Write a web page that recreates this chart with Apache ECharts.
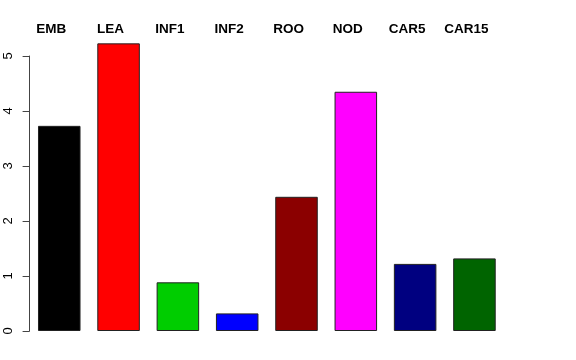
<!DOCTYPE html>
<html>
<head>
<meta charset="utf-8">
<script src="https://cdn.jsdelivr.net/npm/echarts@6/dist/echarts.min.js"></script>
<style>html,body{margin:0;padding:0;background:#fff;}#c{width:576px;height:360px;}</style>
</head>
<body>
<div id="c"></div>
<script>
const categories = ['EMB', 'LEA', 'INF1', 'INF2', 'ROO', 'NOD', 'CAR5', 'CAR15'];
const values = [3.73, 5.23, 0.885, 0.32, 2.44, 4.35, 1.22, 1.32];
const barColors = ['#000000', '#FF0000', '#00CD00', '#0000FF', '#8B0000', '#FF00FF', '#000080', '#006400'];
const yTicks = [0, 1, 2, 3, 4, 5];

const chart = echarts.init(document.getElementById('c'), null, {renderer: 'canvas'});
chart.setOption({
  animation: false,
  backgroundColor: '#ffffff',
  grid: {left: 29.6, top: 56, width: 474.5, bottom: 29},
  xAxis: {
    type: 'category',
    data: categories,
    position: 'top',
    axisLine: {show: false},
    axisTick: {show: false},
    axisLabel: {
      show: true, interval: 0, margin: 20,
      fontFamily: 'Liberation Sans', fontWeight: 'bold', fontSize: 13.5, color: '#000',
      padding: [0, 16, 0, 0]
    }
  },
  yAxis: {
    type: 'value',
    min: yTicks[0], max: yTicks[yTicks.length - 1], interval: 1,
    axisLine: {show: true, lineStyle: {color: '#444', width: 1}},
    axisTick: {show: true, length: 7, lineStyle: {color: '#444'}},
    splitLine: {show: false},
    axisLabel: {
      rotate: 90, margin: 15, fontFamily: 'Liberation Sans', fontSize: 13, color: '#000'
    }
  },
  series: [{
    type: 'bar',
    clip: false,
    data: values.map((v, i) => ({value: v, itemStyle: {color: barColors[i]}})),
    barCategoryGap: '28.3%',
    itemStyle: {borderColor: '#222', borderWidth: 1}
  }]
});
</script>
</body>
</html>
